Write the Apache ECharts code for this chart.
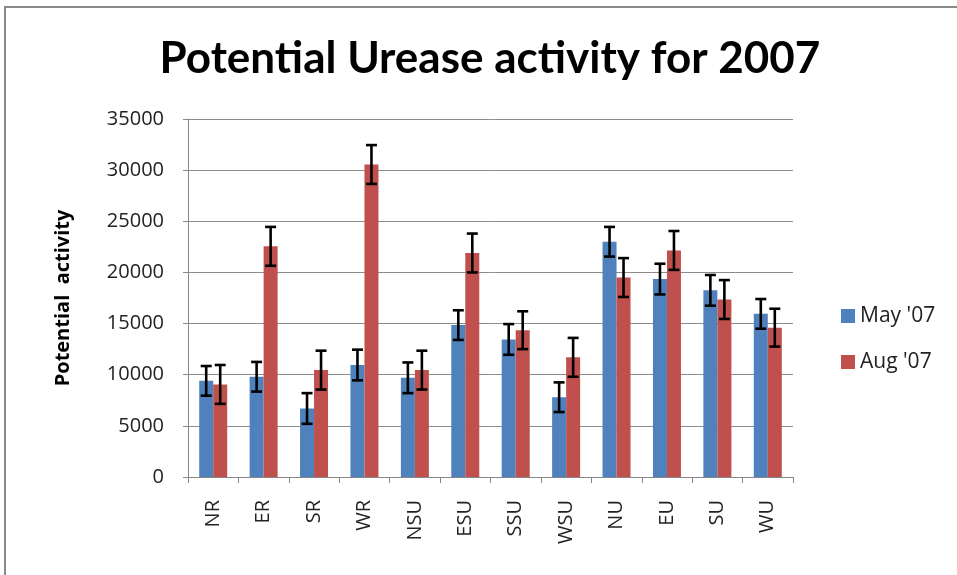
<!DOCTYPE html>
<html>
<head>
<meta charset="utf-8">
<script src="https://cdn.jsdelivr.net/npm/echarts@6/dist/echarts.min.js"></script>
<style>
  html, body { margin: 0; padding: 0; background: #fff; }
  #chart { width: 957px; height: 575px; }
</style>
</head>
<body>
<div id="chart"></div>
<script>
// Sampling sites
const categories = ['NR', 'ER', 'SR', 'WR', 'NSU', 'ESU', 'SSU', 'WSU', 'NU', 'EU', 'SU', 'WU'];
// Mean potential urease activity
const mayValues = [9400, 9800, 6700, 10950, 9700, 14850, 13450, 7800, 23000, 19350, 18250, 15950];
const augValues = [9050, 22550, 10450, 30550, 10450, 21900, 14350, 11700, 19500, 22150, 17350, 14600];
// Error bar half-widths
const mayErr = [1450, 1450, 1500, 1500, 1500, 1450, 1500, 1450, 1450, 1500, 1500, 1450];
const augErr = [1900, 1900, 1900, 1900, 1900, 1900, 1850, 1900, 1900, 1900, 1900, 1850];
// Value axis ticks
const yTicks = [0, 5000, 10000, 15000, 20000, 25000, 30000, 35000];

const seriesNames = ["May '07", "Aug '07"];
const colors = ['#4F81BD', '#C0504D'];
const BAR_W = 14;
const FONT = '"Open Sans", Lato, sans-serif';
const TITLE_FONT = 'Lato, "Open Sans", sans-serif';

function errorSeries(values, errs, offset) {
  return {
    type: 'custom',
    silent: true,
    z: 10,
    data: values.map((v, i) => [i, v, errs[i]]),
    renderItem: function (params, api) {
      const i = api.value(0), v = api.value(1), e = api.value(2);
      const hi = api.coord([i, v + e]);
      const lo = api.coord([i, v - e]);
      const x = hi[0] + offset;
      const cap = 5.5;
      const style = { stroke: '#000', lineWidth: 2.6 };
      return {
        type: 'group',
        children: [
          { type: 'line', shape: { x1: x, y1: hi[1], x2: x, y2: lo[1] }, style: style },
          { type: 'line', shape: { x1: x - cap, y1: hi[1], x2: x + cap, y2: hi[1] }, style: style },
          { type: 'line', shape: { x1: x - cap, y1: lo[1], x2: x + cap, y2: lo[1] }, style: style }
        ]
      };
    }
  };
}

const chart = echarts.init(document.getElementById('chart'), null, { renderer: 'canvas' });
chart.setOption({
  animation: false,
  backgroundColor: '#fff',
  color: colors,
  title: {
    text: 'Potential Urease activity for 2007',
    left: 490,
    textAlign: 'center',
    top: 37,
    padding: 0,
    textStyle: { fontFamily: TITLE_FONT, fontSize: 44, fontWeight: 'bold', color: '#000' }
  },
  graphic: [{
    type: 'rect',
    shape: { x: 5, y: 7, width: 960, height: 580 },
    style: { fill: 'none', stroke: '#8a8a8a', lineWidth: 2 },
    silent: true
  }],
  legend: {
    orient: 'vertical',
    left: 836,
    top: 300,
    itemWidth: 14,
    itemHeight: 14,
    itemGap: 24,
    icon: 'rect',
    data: seriesNames,
    textStyle: { fontFamily: FONT, fontSize: 21, lineHeight: 22, color: '#222' }
  },
  grid: { left: 188, right: 164, top: 119, bottom: 98 },
  xAxis: {
    type: 'category',
    data: categories,
    axisLine: { lineStyle: { color: '#868686', width: 1 } },
    axisTick: { show: true, alignWithLabel: false, length: 6, lineStyle: { color: '#868686' } },
    axisLabel: { rotate: 90, fontFamily: FONT, fontSize: 20, color: '#222', margin: 23 }
  },
  yAxis: {
    type: 'value',
    min: yTicks[0],
    max: yTicks[yTicks.length - 1],
    interval: 5000,
    name: 'Potential  activity',
    nameLocation: 'middle',
    nameGap: 115,
    nameTextStyle: { fontFamily: FONT, fontSize: 20, fontWeight: 'bold', color: '#000' },
    axisLine: { show: true, lineStyle: { color: '#868686', width: 1 } },
    axisTick: { show: true, length: 5, lineStyle: { color: '#868686' } },
    axisLabel: { fontFamily: FONT, fontSize: 20, color: '#222', margin: 24, formatter: v => String(v) },
    splitLine: { lineStyle: { color: '#8c8c8c', width: 1 } }
  },
  series: [
    { name: seriesNames[0], type: 'bar', data: mayValues, barWidth: BAR_W, barGap: '0%', itemStyle: { color: colors[0] } },
    { name: seriesNames[1], type: 'bar', data: augValues, barWidth: BAR_W, barGap: '0%', itemStyle: { color: colors[1] } },
    errorSeries(mayValues, mayErr, -BAR_W / 2),
    errorSeries(augValues, augErr, BAR_W / 2)
  ]
});
</script>
</body>
</html>
